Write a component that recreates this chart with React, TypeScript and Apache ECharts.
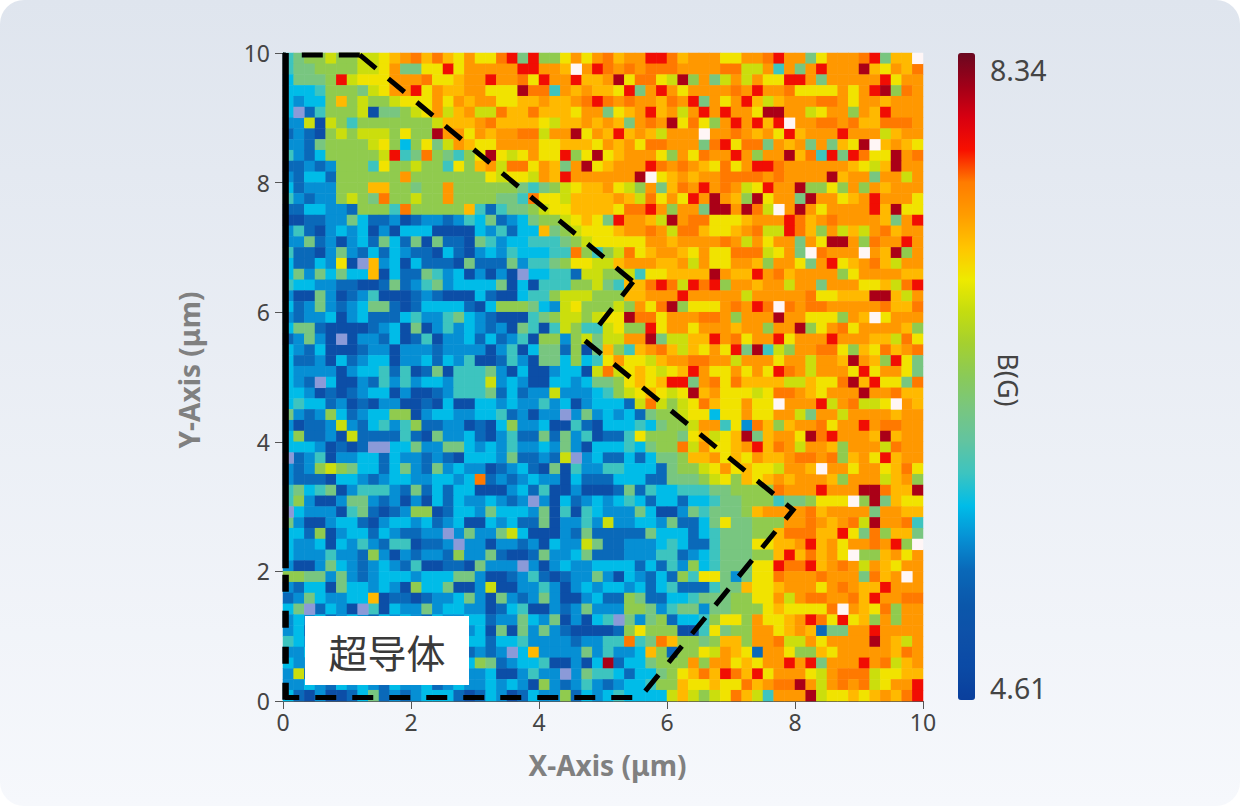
import React, { useEffect, useRef } from "react";
import * as echarts from "echarts";

// Each letter is one estimated field level, top row first.
const westRows: string[] = [
  "efgghgghhijkljljikiilmfmggikik","effgggghhikffiimikkkkkmmkkjWkm","dfffgmhiiikkkliijkkmkklimkkmjj","dddegggfhikkmikjjkkiiinllekjkj",
  "dcddgjghgghiiikikjkkiijjkjjklm","dVbeggghaffghikhjkhhljjljjjikk","cchahgeggggggghjjjkljjjjihjjkj","bcbaghghhhgiggnkkikjkkllhkknik",
  "ccbfgggghigdgifhkjiikkkkiijjji","ecbdggggghmeflgfeginihikiimgin","bbcbcgggeigghggeigjkhllikjfkni","cbddbggggggkgggggggihiihkjmkkk",
  "dbcccgggjjggfggkggggggfefghijj","ecbccghgflgghggkggggffeliihjjj","bbddccbgggelgggggjebeffghiijjj","aabbccfdbbcabccbcedfbcdfgghiji",
  "cebacdcdacadddaaaadcebddjfghii","ccfbcacdbfdbfafbbafecddeeefghi","ebbacfcbdbdcbbadbacdcedddeelge","dbbdciaVjcdadbbbafbbbfceefgiih",
  "dfcfdfddjadbbfecdacacaVddeebhh","eddccbbaabfbcefcddddfadaeeeggh","caafcabceaaabcbaaadbaadeeghhhg","dbcfcbcdffbabddddbadgggfdchigg",
  "cbccdacdbbbdeccefdcbaaaefghhgh","dffbaaaabcdafacecdcbcafeaehgee","bcfcaVaccbdabeaccdbdbceaggcghf","dcbdaaabccacccbccccaceadffbgaf",
  "dbbcadbcddaccdbdceaabecaffdgde","dccccacddebeabfaeeefcadaacddah","dcbVdaacbececddceeehcdcaaddcdf","ddcababcddacaabceeefbdbcchcccd",
  "deddbcabaccaabadaaddcdccecdacd","fcbcgdbcddggacddccddebcaccVcfc","cabbchcbdecegbbccabadgccdaaeba","dgbbcahbbbbebafccdbacebbfbfcea",
  "dddcababVVddfccffdcdceccdcfcad","VbceaccddbdccbcbadddcfbbcbhVcd","cbcghgfddbdfcbfcdccabcdbafaecc","cbbbaddcbcddccddcdlbcbcdccadbb",
  "efdefaceeecbfbdbddaaacdbeaacaa","egcaacffcbcacadbdccdcbcVcadbcd","Vdcccaefbabcggabddcfdddcfaeaed","fcaacddbacddcdbcdaadcdbbfaccec",
  "ddbgacddbdcbbccVcfccfhdaaacbfb","dccdadcecbeeabbcVccaccbcadcchf","dccceccbgcacbccbgccfbaabfccdfb","caacfdcbcdcbeaabbafcccVcacdccd",
  "ggffcfcbcdddcdddffcaabcebabccf","cbddafddcdcagddfaachaaccecacdc","bcfdccddjabbabccdfcafcbcfcaacd","dfVbdcaVeadccfcddccabdeaacbcfc",
  "cdcdbcdcbdcdcbdccddbccfdcfacad","cdbcdcbdcdcbdccdbcdafafcfcbaaa","edcdbcdcbdcdcbdccddbddeccccbcc","ccdbcdcbdcdcbdccdbcbcVdjccccfc",
  "dccdbcdcbdcdcbdccdgfbcddeaacad","chbcdcbdcdcbdccdbccdaaceccVcfe","ccdcbdcdcbdccdbcdccdcdcagcbcec","dbacaabdfbcbcdddbabdcabdccgbdc",
];
const eastRows: string[] = [
  "ljkkmmljkkkiikklmkkfikkklmfjjW","lklklllkkkkllhhkekfkmkkknjikjl","knillihngkfhkhkiimmkfkkkkkmikk","jimfkmkikkkklkmkkliiiikikmnglk",
  "lklkkjlkmfkikmjhjkkkllkikkjkkk","fijkmjkhkmkmkkinnkkhikkgkjmkkk","kjfklkniligkmkmjmWkkllkljjlllk","jmjkjhkkkWkklkjkimjkkkmkkkhjkk",
  "kjkillkkkflmillfkjkfkfjinWjkji","ijkkkigkilkkmkgkknjlemfmliinkl","jkkkmlklkjilikmmlkkkkkkjihjnkk","kkknWijkjkkllllklkkkknjkkfkkhk",
  "kihgkfjlkmklkhimkknggigkgkjkkk","jkjhlikimknkjgnikkfnkkijkmkkki","jillmkgkkfnnknlhWknkikkkkmjnii","fmkkjhnklliiijkkkmljklkkkkjfkm",
  "ijkklkhlljiijklhhmljgkhjhkljkk","iiiikkjkkkklkhkikkfkinnkglkkmk","ghlijkkjikiilllhikfWlkkkWkjngk","hjkkkjjkhkiikkjgkkifkmijkljhkk",
  "ggheiijjjjnkjjmkljkkkkgikkkkjj","fejjlmlhmlmgkkjkkhkkfkkkiijhlm","ggjjkkkmkkkkkhkkkkkliijjjnnjh","ghgkilngiiiklkmlWlkllkkkkkljjl",
  "iinllikkkllkgkkknkkiiigkjWikkk","higgmikkikkkjkkgkkngiklikkkkjg","hhkknfhhjjmklikkmikkkmkkkjjhli","jgejkljhjikimfnehgkklligjiljkl",
  "ikiihjkkllkkhkkkikkhkkjnkjgmif","lhijihijmkiikikimlkhkkkimikkif","fgijijmmfkliljjjjhhjiilnjmiifl","eghijihinjkiiihillkjikkknkkljj",
  "ddbhlhghiljiikiiWkkkmhklhhiWkj","dcdbfgghiidiikiikkhfkkhkkkkjkk","dddedfgghkkeicljgjkklikkmkllkk","bbeigggfijhijnfjkkinlmkkkjnjkk",
  "ddedfgglhkiijkmjlkhkkjgkkkhlkk","bbdbdffgjjkijikjjkllklgjkimjkk","eedddbfgghikijiihkkjWkkikkijli","bdddbbfffghigjijkjkkkjgkkkhjkg",
  "abfbeddeeeffgggglkkkmkkknnljjn","cdedbddbddeffgggeffgiiiWgnfjii","cccfdaacfefffgjkkkkljkkkkfkkjj","hccddcfbbdfiffgggkklkjklhnkkle",
  "bbbbfdddbdefffggjllljjmiflgjjf","bbcccdedbbefffiijjkmjkikklkmgW","bbccceebcdefffggjmjljkiWggjkik","dddbdbecgdefffiimllmjklkhkjikk",
  "cadcbdbgeiifcfiilkkklkkkfljkWk","ddcdbdebbbeffjiijkkkiklkjjmkkk","bbgfbbddefffggiikhkllkkljmkkll","ccggfceffcffgggijiiiilWkjilgkk",
  "eVfcfgbddegiigkiijkmlimijgkgkk","abgigggaaeifggkkijkjbffkkmkkkk","eelefljggfgjjgkklhhkikkkknkjhk","eccdjgbggihkjibkkiggjikkkkkjlk",
  "nbddfgggkgkkijikkmkmfkkkmklhjk","edbddfgijljmljmikkkihklllhiijj","bcddeggjiijiiljkllnkhklklhikkm","deddddhjhghiljhekkknhiijijkjlm",
];
const fieldLevels: Record<string, number> = {
  a: 4.91, b: 5.36, c: 5.54, d: 5.73, e: 5.92, f: 6.29, g: 6.52, h: 6.88, i: 7.07, j: 7.27, k: 7.43, l: 7.6, m: 7.82, n: 8.12,
};
const saturatedLevels: Record<string, number> = { W: 8.6, V: 4.4 };
const colorStops = [
  "#0a3f9c", "#0b4aa5", "#0d50a8", "#0b58ab", "#0a68b8", "#0690d4", "#00bce8", "#3cc4c0", "#62c4a0", "#78c680", "#8aca58",
  "#a4d030", "#c4dc10", "#eeea00", "#ffc400", "#ff9c00", "#ff7c00", "#f81000", "#d80010", "#a00018", "#6a0820",
];
const xTicks = Array.from({ length: 60 }, (_, i) => String(i));
const yTicks = Array.from({ length: 60 }, (_, i) => String(i));

// Hand-drawn boundary of the superconducting region, in µm.
const boundaryUpper = [[1.2, 9.97], [5.47, 6.47]];
const boundaryNotch = [[5.47, 6.47], [4.9, 5.75]];
const boundaryLower = [[4.72, 5.56], [7.97, 2.95], [5.58, 0.055], [0.03, 0.055]];
const boundaryTop = [[1.2, 9.97], [0, 9.97]];
const edgeSolid = [[0.04, 10], [0.04, 2.05]];
const edgeDashed = [[0.04, 1.95], [0.04, 0]];

const FONT = '"Noto Sans", sans-serif';

export default function App() {
  const ref = useRef<HTMLDivElement>(null);
  useEffect(() => {
    document.body.style.margin = "0";
    document.body.style.background = "#ffffff";
    const chart = echarts.init(ref.current!, undefined, { renderer: "svg" });
    const field: [number, number, number][] = [];
    const saturated: [number, number, number][] = [];
    for (let r = 0; r < 60; r++) {
      const row = westRows[r] + eastRows[r];
      for (let c = 0; c < 60; c++) {
        const ch = row.charAt(c) || "k";
        const y = 59 - r;
        if (saturatedLevels[ch] !== undefined) saturated.push([c, y, saturatedLevels[ch]]);
        else field.push([c, y, fieldLevels[ch]]);
      }
    }
    const dashed = (data: number[][], dash: number[], width = 5, dashOffset = 0) => ({
      type: "line" as const,
      xAxisIndex: 1,
      yAxisIndex: 1,
      data,
      symbol: "none",
      silent: true,
      clip: false,
      z: 5,
      lineStyle: { color: "#000", width, type: dash as any, dashOffset, cap: "butt" as const, join: "miter" as const },
    });
    chart.setOption({
      animation: false,
      backgroundColor: "transparent",
      textStyle: { fontFamily: FONT },
      grid: { left: 283, top: 53, width: 640, height: 648 },
      xAxis: [
        {
          type: "category", data: xTicks, position: "top", splitArea: { show: false },
          axisLine: { show: true, lineStyle: { color: "#555", width: 1 } }, axisTick: { show: false }, axisLabel: { show: false }, splitLine: { show: false },
        },
        {
          type: "value", min: 0, max: 10, interval: 2, position: "bottom", name: "X-Axis (μm)", nameLocation: "middle", nameGap: 50,
          nameTextStyle: { color: "#808080", fontSize: 28, fontWeight: "bold", fontFamily: FONT, padding: [0, 0, 0, 9] },
          axisLine: { show: true, onZero: false, lineStyle: { color: "#555", width: 1 } },
          axisTick: { show: true, length: 8, lineStyle: { color: "#555", width: 1 } },
          axisLabel: { color: "#444", fontSize: 23, margin: 9, fontFamily: FONT }, splitLine: { show: false },
        },
      ],
      yAxis: [
        {
          type: "category", data: yTicks, position: "right", splitArea: { show: false },
          axisLine: { show: true, lineStyle: { color: "#555", width: 1 } }, axisTick: { show: false }, axisLabel: { show: false }, splitLine: { show: false },
        },
        {
          type: "value", min: 0, max: 10, interval: 2, position: "left", name: "Y-Axis (μm)", nameLocation: "middle", nameGap: 80, nameRotate: 90,
          nameTextStyle: { color: "#808080", fontSize: 28, fontWeight: "bold", fontFamily: FONT, padding: [0, 0, 0, 14] },
          axisLine: { show: true, onZero: false, lineStyle: { color: "#555", width: 1 } },
          axisTick: { show: true, length: 8, lineStyle: { color: "#555", width: 1 } },
          axisLabel: { color: "#444", fontSize: 23, margin: 13, fontFamily: FONT }, splitLine: { show: false },
        },
      ],
      visualMap: [
        {
          type: "continuous", seriesIndex: 0, min: 4.61, max: 8.34, left: 958, top: 53, itemWidth: 17, itemHeight: 647, padding: 0,
          calculable: false, realtime: false, orient: "vertical", inRange: { color: colorStops }, hoverLink: false, showLabel: false,
        },
        {
          type: "piecewise", seriesIndex: 1, show: false,
          pieces: [{ min: 8.4, color: "#fff6f6" }, { max: 4.5, color: "#8b9ad8" }],
        },
      ],
      series: [
        { name: "B(G)", type: "heatmap", xAxisIndex: 0, yAxisIndex: 0, data: field, progressive: 0, silent: true, itemStyle: { borderWidth: 0 } },
        { name: "Out of scale", type: "heatmap", xAxisIndex: 0, yAxisIndex: 0, data: saturated, progressive: 0, silent: true, itemStyle: { borderWidth: 0 } },
        dashed(boundaryUpper, [21, 16]),
        dashed(boundaryNotch, [21, 16], 5, 3),
        dashed(boundaryLower, [21, 16]),
        dashed(boundaryTop, [21, 16]),
        dashed(edgeSolid, [2000, 1], 6.5),
        dashed(edgeDashed, [17, 19], 6.5),
      ],
      graphic: [
        { type: "rect", z: 100, shape: { x: 305, y: 616, width: 164, height: 69 }, style: { fill: "#ffffff" } },
        {
          type: "text", z: 101, x: 387, y: 651,
          style: { text: "超导体", fill: "#3a3a3a", font: '39px "Noto Sans CJK SC"', textAlign: "center", textVerticalAlign: "middle" },
        },
        { type: "text", z: 101, x: 990, y: 70, style: { text: "8.34", fill: "#444", font: `28.5px ${FONT}`, textAlign: "left", textVerticalAlign: "middle" } },
        { type: "text", z: 101, x: 990, y: 688, style: { text: "4.61", fill: "#444", font: `28.5px ${FONT}`, textAlign: "left", textVerticalAlign: "middle" } },
        {
          type: "text", z: 101, x: 1008, y: 380, rotation: -Math.PI / 2,
          style: { text: "B(G)", fill: "#444", font: `27px ${FONT}`, textAlign: "center", textVerticalAlign: "middle" },
        },
      ],
    });
    return () => chart.dispose();
  }, []);
  return (
    <div style={{ width: 1240, height: 806, borderRadius: 24, overflow: "hidden", background: "linear-gradient(180deg,#dfe5ee 0%,#f6f8fc 100%)" }}>
      <div ref={ref} style={{ width: 1240, height: 806 }} />
    </div>
  );
}
